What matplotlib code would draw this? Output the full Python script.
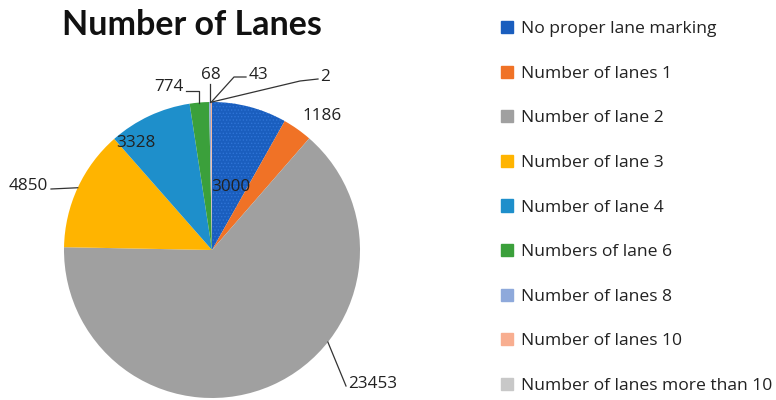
import matplotlib
matplotlib.use("Agg")
import matplotlib.pyplot as plt
import numpy as np

plt.rcParams['font.family'] = ['Open Sans', 'DejaVu Sans']
plt.rcParams['hatch.linewidth'] = 0.6

categories = ["No proper lane marking", "Number of lanes 1", "Number of lane 2",
              "Number of lane 3", "Number of lane 4", "Numbers of lane 6",
              "Number of lanes 8", "Number of lanes 10", "Number of lanes more than 10"]
values = [3000, 1186, 23453, 4850, 3328, 774, 68, 43, 2]
colors = ["#1A5EBE", "#F07226", "#A0A0A0", "#FFB400", "#1E8FCB", "#3BA03B",
          "#8EA9DB", "#F8AE90", "#C8C8C8"]

W, H = 776, 400
fig = plt.figure(figsize=(W / 100, H / 100), dpi=100)
cx, cy, r = 212, 250, 148
ax = fig.add_axes([(cx - r) / W, (H - cy - r) / H, 2 * r / W, 2 * r / H])
wedges, _ = ax.pie(values, colors=colors, startangle=90, counterclock=False,
                   radius=1, wedgeprops=dict(linewidth=0))
wedges[0].set_hatch('.....')
wedges[0].set_edgecolor('#2E74D6')
wedges[0].set_linewidth(0)
ax.set_xlim(-1, 1)
ax.set_ylim(-1, 1)
ax.set_aspect('equal')
ax.axis('off')


def px(x, y):
    return ((x - cx) / r, (cy - y) / r)


def edge_pt(w, frac=0.5):
    a = np.deg2rad(w.theta1 + (w.theta2 - w.theta1) * frac)
    return np.cos(a), np.sin(a)


tk = dict(fontsize=12.3, color='#222222', clip_on=False)
lk = dict(color='#333333', lw=0.9, clip_on=False)

# inside labels
ax.text(*px(231, 187), str(values[0]), ha='center', va='center', **tk)
ax.text(*px(136, 143), str(values[4]), ha='center', va='center', **tk)
# outside, no leader
ax.text(*px(322, 116), str(values[1]), ha='center', va='center', **tk)

# 23453
p = edge_pt(wedges[2], 0.62)
ax.plot([p[0], px(346, 386)[0]], [p[1], px(346, 386)[1]], **lk)
ax.text(*px(348, 384), str(values[2]), ha='left', va='center', **tk)
# 4850
p = edge_pt(wedges[3], 0.5)
ax.plot([px(51, 189)[0], p[0]], [px(51, 189)[1], p[1]], **lk)
ax.text(*px(48, 186), str(values[3]), ha='right', va='center', **tk)
# 774
p = edge_pt(wedges[5], 0.5)
ax.plot([px(186, 91)[0], p[0], p[0]], [px(186, 91)[1], px(186, 91)[1], p[1]], **lk)
ax.text(*px(169, 87), str(values[5]), ha='center', va='center', **tk)
# 68
p = edge_pt(wedges[6], 0.5)
ax.plot([p[0], p[0]], [px(0, 84)[1], p[1]], **lk)
ax.text(*px(211, 75), str(values[6]), ha='center', va='center', **tk)
# 43
p = edge_pt(wedges[7], 0.5)
ax.plot([px(246, 77)[0], px(234, 77)[0], p[0]], [px(246, 77)[1], px(234, 77)[1], p[1]], **lk)
ax.text(*px(259, 75), str(values[7]), ha='center', va='center', **tk)
# 2
p = edge_pt(wedges[8], 0.5)
ax.plot([px(318, 79)[0], px(300, 81)[0], p[0]], [px(318, 79)[1], px(300, 81)[1], p[1]], **lk)
ax.text(*px(325, 77), str(values[8]), ha='center', va='center', **tk)

fig.text(62 / W, 1 - 25 / H, "Number of Lanes", fontsize=24.5, fontweight='bold',
         family=['Lato', 'DejaVu Sans'], ha='left', va='center', color='#111111')

handles = [plt.Rectangle((0, 0), 1, 1, color=c) for c in colors]
fig.legend(handles, categories, loc='upper left', bbox_to_anchor=(501 / W, 1 - 21 / H),
           frameon=False, fontsize=12.6, handlelength=0.7, handleheight=0.7,
           handletextpad=0.45, labelspacing=1.62, borderpad=0, borderaxespad=0,
           labelcolor='#222222')

fig.savefig("out.png", dpi=100)
